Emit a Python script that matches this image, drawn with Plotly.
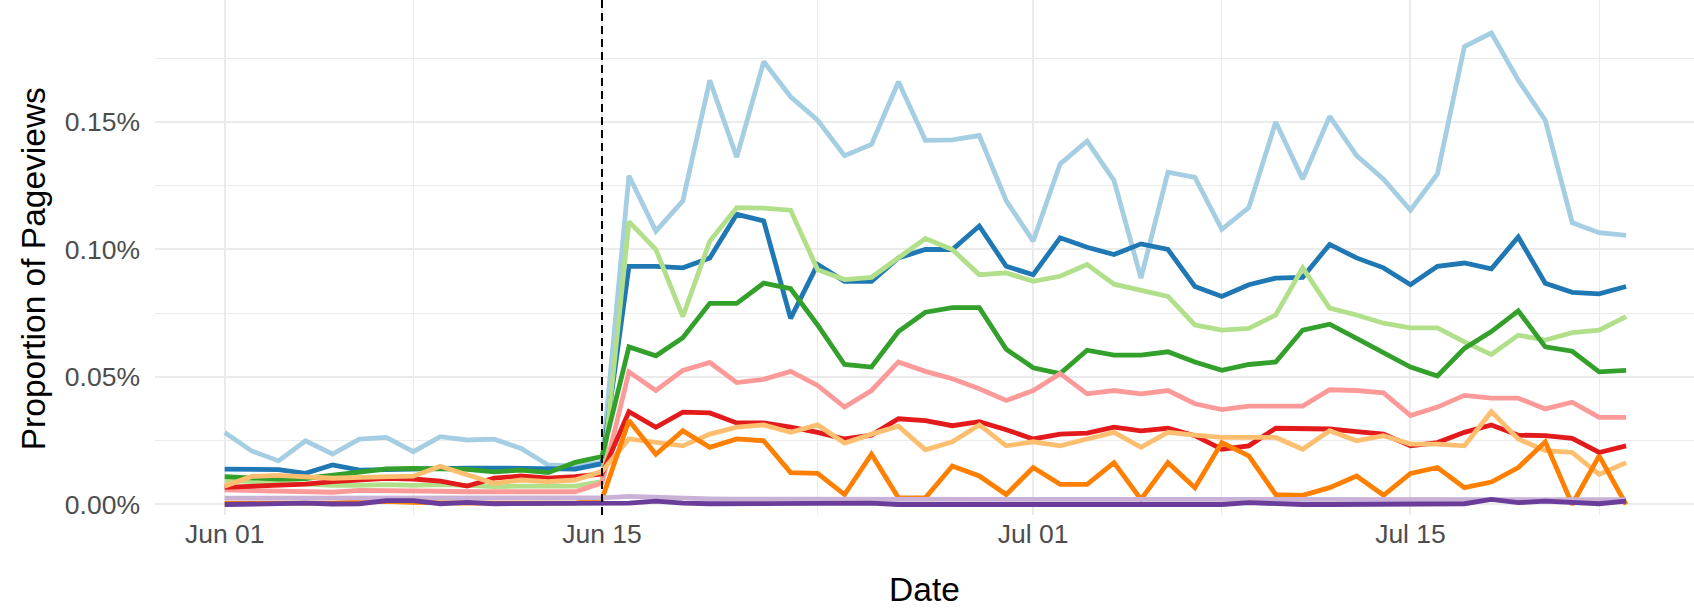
import pandas as pd
import plotly.graph_objects as go

# ---- data (values in percent of pageviews) ----
dates = pd.date_range("2018-06-01", "2018-07-23", freq="D")

series_names = ["Series 1", "Series 2", "Series 3", "Series 4", "Series 5",
                "Series 6", "Series 7", "Series 8", "Series 9", "Series 10"]

s1 = [0.0282, 0.0210, 0.0171, 0.0250, 0.0198, 0.0256, 0.0263, 0.0207, 0.0266, 0.0253,
      0.0256, 0.0220, 0.0155, 0.0150, 0.0165,
      0.1289, 0.1072, 0.1191, 0.1664, 0.1362, 0.1737, 0.1599, 0.1507, 0.1368, 0.1412,
      0.1658, 0.1428, 0.1430, 0.1447, 0.1191, 0.1033, 0.1336, 0.1425, 0.1270, 0.0888,
      0.1303, 0.1283, 0.1079, 0.1164, 0.1500, 0.1276, 0.1522, 0.1368, 0.1276, 0.1154,
      0.1296, 0.1796, 0.1849, 0.1664, 0.1507, 0.1105, 0.1066, 0.1055]

s2 = [0.0139, 0.0139, 0.0137, 0.0122, 0.0155, 0.0135, 0.0138, 0.0138, 0.0141, 0.0143,
      0.0143, 0.0143, 0.0141, 0.0139, 0.0160,
      0.0934, 0.0934, 0.0928, 0.0967, 0.1138, 0.1112, 0.0730, 0.0941, 0.0875, 0.0875,
      0.0967, 0.1000, 0.1000, 0.1092, 0.0934, 0.0901, 0.1046, 0.1009, 0.0980, 0.1022,
      0.1000, 0.0855, 0.0816, 0.0862, 0.0888, 0.0891, 0.1020, 0.0967, 0.0928, 0.0862,
      0.0934, 0.0947, 0.0924, 0.1049, 0.0868, 0.0832, 0.0826, 0.0855]

s3 = [0.0095, 0.0090, 0.0085, 0.0080, 0.0075, 0.0075, 0.0078, 0.0075, 0.0078, 0.0075,
      0.0070, 0.0072, 0.0070, 0.0072, 0.0090,
      0.1109, 0.1000, 0.0737, 0.1033, 0.1164, 0.1162, 0.1154, 0.0921, 0.0882, 0.0891,
      0.0967, 0.1043, 0.1000, 0.0901, 0.0908, 0.0875, 0.0895, 0.0941, 0.0864, 0.0838,
      0.0816, 0.0704, 0.0684, 0.0691, 0.0743, 0.0928, 0.0770, 0.0743, 0.0711, 0.0693,
      0.0693, 0.0638, 0.0588, 0.0664, 0.0645, 0.0674, 0.0684, 0.0737]

s4 = [0.0109, 0.0105, 0.0100, 0.0102, 0.0115, 0.0128, 0.0140, 0.0142, 0.0142, 0.0138,
      0.0128, 0.0135, 0.0125, 0.0165, 0.0188,
      0.0618, 0.0583, 0.0654, 0.0789, 0.0789, 0.0868, 0.0846, 0.0704, 0.0549, 0.0539,
      0.0678, 0.0754, 0.0772, 0.0772, 0.0609, 0.0536, 0.0513, 0.0605, 0.0586, 0.0586,
      0.0599, 0.0559, 0.0526, 0.0549, 0.0559, 0.0684, 0.0707, 0.0651, 0.0596, 0.0539,
      0.0504, 0.0612, 0.0678, 0.0759, 0.0618, 0.0601, 0.0520, 0.0526]

s5 = [0.0057, 0.0055, 0.0052, 0.0050, 0.0048, 0.0055, 0.0055, 0.0052, 0.0052, 0.0050,
      0.0048, 0.0050, 0.0050, 0.0050, 0.0085,
      0.0520, 0.0447, 0.0526, 0.0557, 0.0478, 0.0491, 0.0522, 0.0467, 0.0382, 0.0447,
      0.0559, 0.0522, 0.0493, 0.0454, 0.0408, 0.0447, 0.0513, 0.0434, 0.0447, 0.0434,
      0.0447, 0.0395, 0.0372, 0.0386, 0.0388, 0.0386, 0.0450, 0.0447, 0.0438, 0.0349,
      0.0382, 0.0428, 0.0417, 0.0417, 0.0375, 0.0401, 0.0342, 0.0342]

s6 = [0.0067, 0.0070, 0.0073, 0.0080, 0.0090, 0.0096, 0.0103, 0.0100, 0.0092, 0.0072,
      0.0103, 0.0112, 0.0103, 0.0109, 0.0120,
      0.0364, 0.0303, 0.0362, 0.0359, 0.0320, 0.0320, 0.0303, 0.0283, 0.0257, 0.0272,
      0.0336, 0.0329, 0.0309, 0.0325, 0.0293, 0.0257, 0.0276, 0.0280, 0.0303, 0.0289,
      0.0299, 0.0270, 0.0217, 0.0230, 0.0299, 0.0299, 0.0296, 0.0286, 0.0276, 0.0230,
      0.0243, 0.0283, 0.0312, 0.0272, 0.0270, 0.0259, 0.0204, 0.0230]

s7 = [0.0072, 0.0110, 0.0114, 0.0109, 0.0103, 0.0106, 0.0108, 0.0111, 0.0150, 0.0116,
      0.0083, 0.0096, 0.0090, 0.0096, 0.0130,
      0.0257, 0.0243, 0.0230, 0.0276, 0.0303, 0.0312, 0.0283, 0.0312, 0.0241, 0.0276,
      0.0307, 0.0214, 0.0246, 0.0312, 0.0230, 0.0246, 0.0230, 0.0257, 0.0283, 0.0224,
      0.0283, 0.0272, 0.0263, 0.0263, 0.0263, 0.0217, 0.0289, 0.0250, 0.0270, 0.0237,
      0.0237, 0.0230, 0.0364, 0.0257, 0.0211, 0.0204, 0.0118, 0.0164]

s8 = [0.0005, 0.0005, 0.0003, 0.0003, 0.0005, 0.0010, 0.0012, 0.0008, 0.0005, 0.0005,
      0.0005, 0.0005, 0.0005, 0.0005, 0.0020,
      0.0329, 0.0197, 0.0289, 0.0224, 0.0257, 0.0250, 0.0125, 0.0122, 0.0039, 0.0197,
      0.0026, 0.0026, 0.0151, 0.0112, 0.0039, 0.0145, 0.0079, 0.0079, 0.0164, 0.0020,
      0.0164, 0.0066, 0.0243, 0.0191, 0.0039, 0.0036, 0.0066, 0.0112, 0.0036, 0.0122,
      0.0145, 0.0066, 0.0088, 0.0145, 0.0246, 0.0000, 0.0191, 0.0000]

s9 = [0.0025, 0.0025, 0.0024, 0.0024, 0.0025, 0.0026, 0.0025, 0.0024, 0.0024, 0.0025,
      0.0024, 0.0024, 0.0024, 0.0024, 0.0026,
      0.0032, 0.0028, 0.0024, 0.0022, 0.0021, 0.0021, 0.0021, 0.0021, 0.0020, 0.0021,
      0.0021, 0.0020, 0.0020, 0.0020, 0.0020, 0.0020, 0.0021, 0.0020, 0.0020, 0.0020,
      0.0020, 0.0020, 0.0020, 0.0020, 0.0020, 0.0020, 0.0020, 0.0020, 0.0020, 0.0020,
      0.0020, 0.0020, 0.0020, 0.0020, 0.0020, 0.0020, 0.0020, 0.0019]

s10 = [0.0000, 0.0003, 0.0005, 0.0005, 0.0002, 0.0003, 0.0015, 0.0015, 0.0003, 0.0008,
       0.0003, 0.0003, 0.0002, 0.0003, 0.0005,
       0.0005, 0.0013, 0.0005, 0.0003, 0.0003, 0.0003, 0.0003, 0.0003, 0.0003, 0.0005,
       0.0000, 0.0000, 0.0000, 0.0000, 0.0000, 0.0003, 0.0003, 0.0000, 0.0000, 0.0000,
       0.0000, 0.0003, 0.0000, 0.0007, 0.0003, 0.0000, 0.0000, 0.0000, 0.0000, 0.0000,
       0.0000, 0.0003, 0.0020, 0.0007, 0.0013, 0.0008, 0.0003, 0.0013]

all_series = [s1, s2, s3, s4, s5, s6, s7, s8, s9, s10]

colors = ["#A6CEE3", "#1F78B4", "#B2DF8A", "#33A02C", "#FB9A99",
          "#E31A1C", "#FDBF6F", "#FF7F00", "#CAB2D6", "#6A3D9A"]

x_tick_vals = ["2018-06-01", "2018-06-15", "2018-07-01", "2018-07-15"]
x_minor_vals = ["2018-06-08", "2018-06-23", "2018-07-08", "2018-07-22"]
y_tick_vals = [0.00, 0.05, 0.10, 0.15]
y_tick_text = ["0.00%", "0.05%", "0.10%", "0.15%"]
event_date = "2018-06-15"

# ---- figure ----
fig = go.Figure()
for name, vals, col in zip(series_names, all_series, colors):
    fig.add_trace(go.Scatter(
        x=dates, y=vals, mode="lines", name=name,
        line=dict(color=col, width=4.8),
        showlegend=False,
    ))

fig.add_vline(x=event_date, line=dict(color="black", width=2, dash="8px,5px"),
              layer="above")

x_lo = dates[0] - pd.Timedelta(days=2.586)
x_hi = dates[-1] + pd.Timedelta(days=2.52)

grid = "#EBEBEB"
font_family = "Liberation Sans, Arial, sans-serif"
tick_font = dict(family=font_family, size=26.5, color="#4D4D4D")
title_font = dict(family=font_family, size=33.5, color="black")

fig.update_layout(
    width=1694, height=608,
    margin=dict(l=155, r=0, t=0, b=93),
    paper_bgcolor="white", plot_bgcolor="white",
    xaxis=dict(
        type="date", range=[x_lo, x_hi],
        tickmode="array", tickvals=x_tick_vals, tickformat="%b %d",
        showgrid=True, gridcolor=grid, gridwidth=2,
        minor=dict(tickmode="array", tickvals=x_minor_vals, showgrid=True,
                   gridcolor=grid, gridwidth=1.2),
        zeroline=False, showline=False, ticks="",
        tickfont=tick_font,
        title=dict(text="Date", font=title_font, standoff=35),
    ),
    yaxis=dict(
        range=[-0.00412, 0.19784],
        tickmode="array", tickvals=y_tick_vals, ticktext=y_tick_text,
        showgrid=True, gridcolor=grid, gridwidth=2,
        minor=dict(dtick=0.025, tick0=0, showgrid=True, gridcolor=grid, gridwidth=1.2),
        zeroline=False, showline=False, ticks="",
        ticklabelstandoff=14,
        tickfont=tick_font,
    ),
    annotations=[dict(
        text="Proportion of Pageviews", textangle=-90,
        xref="paper", yref="paper", x=-0.079, y=0.478,
        xanchor="center", yanchor="middle", showarrow=False,
        font=title_font,
    )],
)

fig.write_html("out.html",
               config={"displayModeBar": False},
               post_script="document.body.style.margin='0';document.body.style.overflow='hidden';")
